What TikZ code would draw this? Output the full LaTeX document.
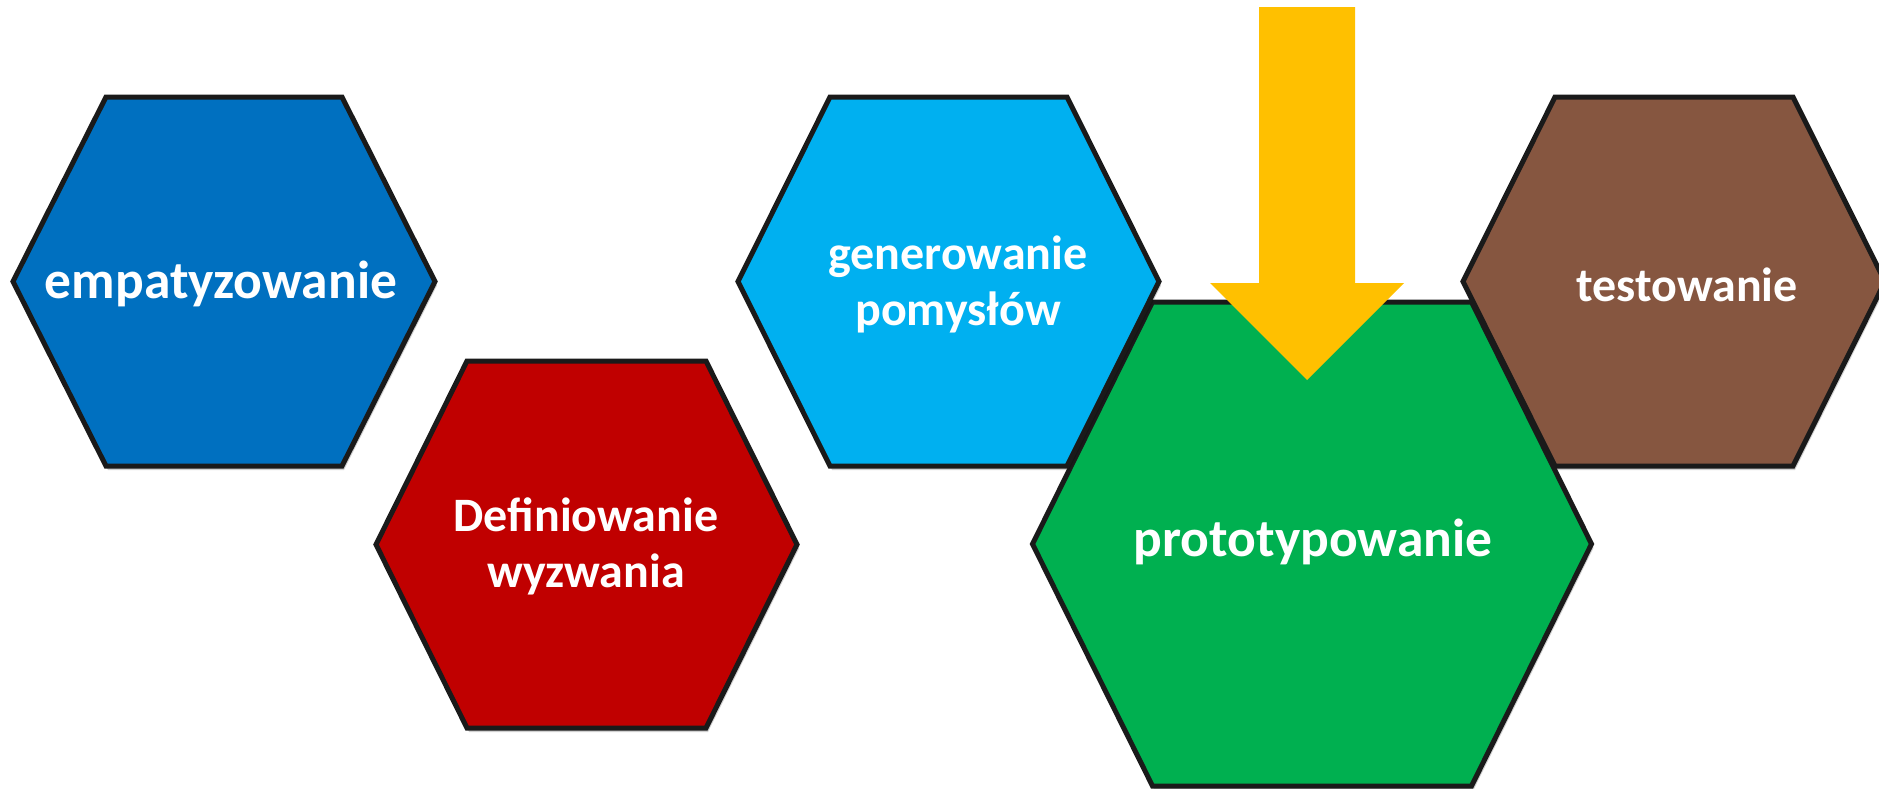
\documentclass[tikz,border=0pt]{standalone}
\usepackage{fontspec}
\setmainfont{Carlito}
\usetikzlibrary{shadows}

\definecolor{hexblue}{HTML}{0070C0}
\definecolor{hexred}{HTML}{C00000}
\definecolor{hexcyan}{HTML}{00B0F0}
\definecolor{hexgreen}{HTML}{00B050}
\definecolor{hexbrown}{HTML}{865640}
\definecolor{arrowyellow}{HTML}{FFC000}
\definecolor{edgeblack}{HTML}{1A1A1A}

\tikzset{
  hexcell/.style={draw=edgeblack, line width=5pt, line join=miter,
    drop shadow={shadow xshift=2pt, shadow yshift=-4pt, opacity=0.18, fill=black}},
  hexlabel/.style={text=white, align=center,
    font=\fontsize{48}{56}\selectfont\bfseries, inner sep=0pt},
  biglabel/.style={hexlabel, font=\fontsize{53.5}{62}\selectfont\bfseries},
}

% hexagon: centre (#1,#2), half width #3, half height #4, slant #5, fill #6
\newcommand{\hexcellpath}[6]{%
  \path[hexcell, fill=#6]
    ({#1-#3+#5},{#2-#4}) -- ({#1+#3-#5},{#2-#4}) -- ({#1+#3},{#2})
    -- ({#1+#3-#5},{#2+#4}) -- ({#1-#3+#5},{#2+#4}) -- ({#1-#3},{#2}) -- cycle;}

\begin{document}
\begin{tikzpicture}[x=1pt, y=-1pt]
  \useasboundingbox (0,0) rectangle (1879,788);

  % stage cells
  \hexcellpath{224}{281.5}{211}{184.5}{93}{hexblue}
  \hexcellpath{586.5}{544.5}{210.5}{183.5}{91}{hexred}
  \hexcellpath{1312}{544}{279.5}{242}{120}{hexgreen}
  \hexcellpath{948.5}{281.5}{210.5}{184.5}{92}{hexcyan}
  \hexcellpath{1674}{281.5}{211}{184.5}{92}{hexbrown}

  % labels
  \node[biglabel] (empat) at (221,284) {empatyzowanie};
  \node[hexlabel] (defin) at (586,546) {Definiowanie\\wyzwania};
  \node[hexlabel] (gener) at (958,284) {generowanie\\pomysłów};
  \node[biglabel] (proto) at (1313,542) {prototypowanie};
  \node[hexlabel] (testo) at (1687,285) {testowanie};

  % pointer arrow into the prototyping stage
  \fill[arrowyellow] (1259,7) -- (1355,7) -- (1355,283) -- (1404,283)
    -- (1307,380) -- (1210,283) -- (1259,283) -- cycle;
\end{tikzpicture}
\end{document}
